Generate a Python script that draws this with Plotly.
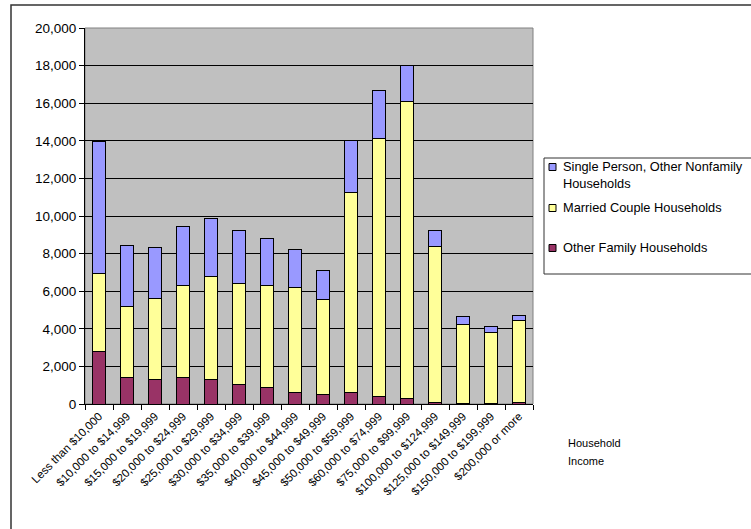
import plotly.graph_objects as go

categories = ["Less than $10,000", "$10,000 to $14,999", "$15,000 to $19,999",
              "$20,000 to $24,999", "$25,000 to $29,999", "$30,000 to $34,999",
              "$35,000 to $39,999", "$40,000 to $44,999", "$45,000 to $49,999",
              "$50,000 to $59,999", "$60,000 to $74,999", "$75,000 to $99,999",
              "$100,000 to $124,999", "$125,000 to $149,999", "$150,000 to $199,999",
              "$200,000 or more"]
other_family = [2770, 1420, 1310, 1420, 1310, 1050, 890, 620, 510, 620, 410, 300, 100, 40, 40, 100]
married_couple = [4190, 3760, 4280, 4860, 5490, 5340, 5390, 5590, 5040, 10650, 13700, 15780, 8280, 4200, 3740, 4350]
single_nonfamily = [6990, 3250, 2750, 3140, 3050, 2860, 2520, 2020, 1570, 2730, 2540, 1950, 870, 430, 350, 270]
y_ticks = [0, 2000, 4000, 6000, 8000, 10000, 12000, 14000, 16000, 18000, 20000]

FONT = "Arial, Liberation Sans, sans-serif"

# plot-area pixel geometry helpers (figure 751x529)
L, R, T, B = 85, 533, 28, 404
def px(x):
    return (x - L) / (R - L)
def py(y):
    return (B - y) / (B - T)

fig = go.Figure()
series = [
    ("Other Family Households", other_family, "#993366"),
    ("Married Couple Households", married_couple, "#FFFF99"),
    ("Single Person, Other Nonfamily<br>Households", single_nonfamily, "#9999FF"),
]
for name, vals, col in series:
    fig.add_trace(go.Bar(
        x=categories, y=vals, name=name.replace("<br>", " "),
        marker=dict(color=col, line=dict(color="black", width=1)),
    ))

fig.update_layout(
    width=751, height=529,
    margin=dict(l=L, r=751 - R, t=T, b=529 - B, autoexpand=False),
    barmode="stack", bargap=0.56,
    plot_bgcolor="#C0C0C0", paper_bgcolor="white",
    font=dict(family=FONT, size=12, color="black"),
    showlegend=False,
)
fig.update_yaxes(
    range=[0, 20000], tickvals=y_ticks, tickformat=",d",
    showgrid=True, gridcolor="black", gridwidth=1,
    showline=True, linecolor="black", linewidth=1,
    ticks="outside", ticklen=5, tickcolor="black",
    tickfont=dict(family=FONT, size=13.5, color="black"),
    zeroline=False,
)
fig.update_xaxes(
    tickangle=-45, tickson="boundaries",
    showline=True, linecolor="black", linewidth=1,
    ticks="outside", ticklen=5, tickcolor="black",
    tickfont=dict(family=FONT, size=11.5, color="black"),
)
# plot area border (top/right)
fig.add_shape(type="rect", xref="paper", yref="paper", x0=0, y0=0, x1=1, y1=1,
              line=dict(color="#808080", width=1), layer="below")
# outer chart frame
fig.add_shape(type="rect", xref="paper", yref="paper",
              x0=px(11), y0=py(540), x1=px(760), y1=py(5),
              line=dict(color="#333333", width=1.5))

# legend (drawn box, markers, labels) - order top to bottom: single, married, other
fig.add_shape(type="rect", xref="paper", yref="paper",
              x0=px(544), y0=py(274), x1=px(760), y1=py(158),
              line=dict(color="#333333", width=1), fillcolor="white")
legend_rows = [(series[2], 167, 166), (series[1], 208, 208), (series[0], 248, 247)]
for (name, _, col), my, ty in legend_rows:
    fig.add_shape(type="rect", xref="paper", yref="paper",
                  x0=px(549), y0=py(my + 3.5), x1=px(556), y1=py(my - 3.5),
                  line=dict(color="black", width=1), fillcolor=col)
    fig.add_annotation(text=name, xref="paper", yref="paper",
                       x=px(562), y=py(ty - 8.5), xanchor="left", yanchor="top",
                       align="left", showarrow=False, borderpad=0,
                       font=dict(family=FONT, size=12.8, color="black"))

fig.add_annotation(text="Household", xref="paper", yref="paper",
                   x=px(566), y=py(443), xanchor="left", yanchor="middle",
                   showarrow=False, font=dict(family=FONT, size=11, color="black"))
fig.add_annotation(text="Income", xref="paper", yref="paper",
                   x=px(566), y=py(461), xanchor="left", yanchor="middle",
                   showarrow=False, font=dict(family=FONT, size=11, color="black"))

fig.write_html("out.html")
